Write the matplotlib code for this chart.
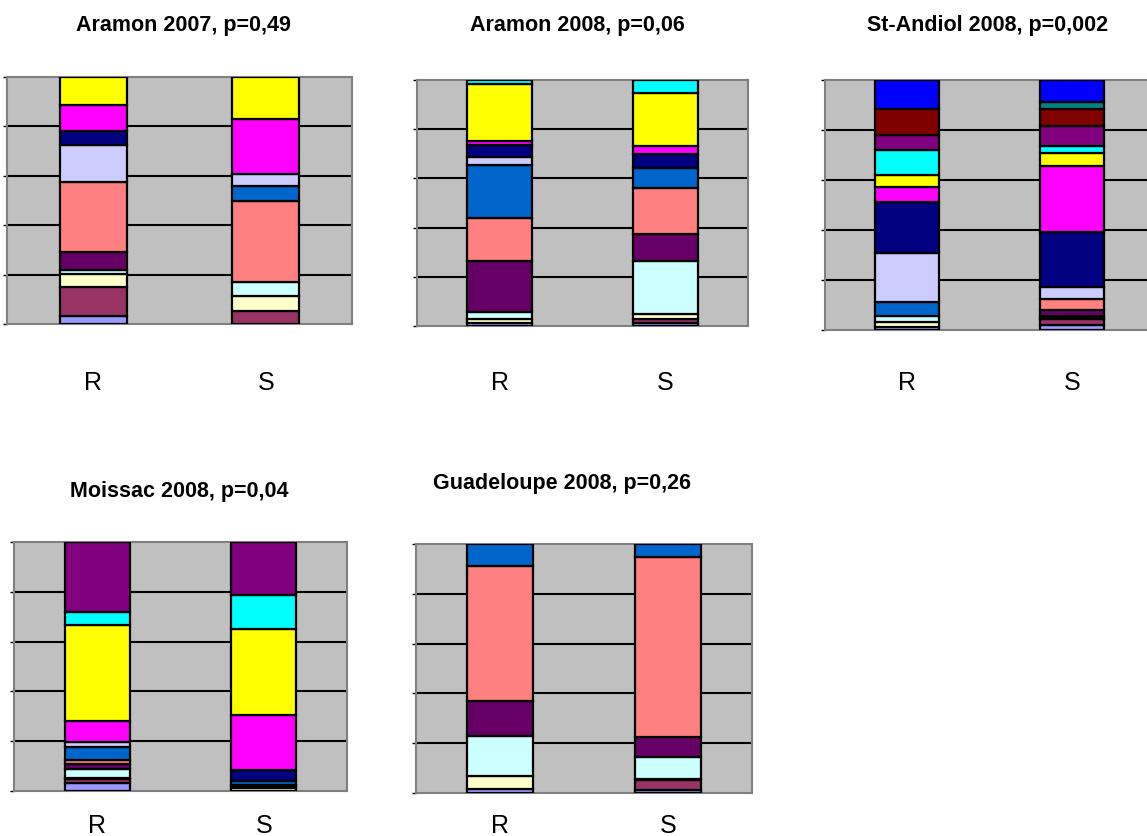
"""Five 100% stacked bar panels (R vs S) in the old spreadsheet palette."""

import matplotlib
matplotlib.use("Agg")
import matplotlib.pyplot as plt

plt.rcParams["font.family"] = ["Liberation Sans", "DejaVu Sans"]

W, H = 1147, 837

# stacking order, bottom to top
SERIES_COLORS = ["#9999FF", "#993366", "#FFFFCC", "#CCFFFF", "#660066", "#FF8080",
                 "#0066CC", "#CCCCFF", "#000080", "#FF00FF", "#FFFF00", "#00FFFF",
                 "#800080", "#800000", "#008080", "#0000FF"]
CATEGORIES = ["R", "S"]

titles = ["Aramon 2007, p=0,49", "Aramon 2008, p=0,06", "St-Andiol 2008, p=0,002",
          "Moissac 2008, p=0,04", "Guadeloupe 2008, p=0,26"]

aramon07_r = [3.4, 11.5, 5.4, 1.6, 7.4, 28.1, 0, 14.9, 5.7, 10.5, 11.5, 0, 0, 0, 0, 0]
aramon07_s = [0, 5.1, 6.4, 5.4, 0, 32.7, 6.1, 5.1, 0, 22.3, 16.9, 0, 0, 0, 0, 0]
aramon08_r = [1.4, 0, 1.6, 2.8, 20.6, 17.6, 21.3, 3.5, 4.6, 1.8, 23.0, 1.8, 0, 0, 0, 0]
aramon08_s = [1.4, 1.6, 1.8, 21.7, 10.8, 18.6, 8.5, 0, 5.4, 3.4, 21.7, 5.1, 0, 0, 0, 0]
andiol08_r = [1.1, 0, 2.0, 2.7, 0, 0, 5.3, 19.8, 20.2, 6.0, 5.1, 9.7, 6.3, 10.3, 0, 11.5]
andiol08_s = [2.1, 2.3, 0.6, 0.6, 2.4, 4.4, 0, 4.9, 22.0, 26.5, 5.1, 2.7, 8.0, 6.9, 2.7, 8.8]
moissac08_r = [3.1, 1.9, 0.3, 3.5, 1.9, 1.7, 5.4, 1.7, 0, 8.6, 38.6, 5.1, 28.2, 0, 0, 0]
moissac08_s = [0, 0, 1.3, 0.6, 0.6, 0, 1.7, 0, 4.3, 21.9, 34.6, 13.8, 21.2, 0, 0, 0]
guadel08_r = [1.6, 0, 5.4, 15.8, 14.1, 54.4, 8.7, 0, 0, 0, 0, 0, 0, 0, 0, 0]
guadel08_s = [1.2, 4.0, 0.6, 8.7, 7.8, 72.3, 5.4, 0, 0, 0, 0, 0, 0, 0, 0, 0]

panel_values = [(aramon07_r, aramon07_s), (aramon08_r, aramon08_s),
                (andiol08_r, andiol08_s), (moissac08_r, moissac08_s),
                (guadel08_r, guadel08_s)]

# plot area in pixels: left, right, top, bottom
boxes = [(7, 352, 78, 325), (417, 748, 81, 327), (825, 1154, 81, 331),
         (14, 347, 543, 792), (416, 752, 545, 794)]
title_pos = [(183, 25), (577, 25), (988, 25), (179, 492), (562, 484)]
label_pad_px = [46, 44, 40, 22, 20]

fig = plt.figure(figsize=(W / 100, H / 100), dpi=100, facecolor="white")

for i, (vals_r, vals_s) in enumerate(panel_values):
    l, r, t, b = boxes[i]
    ax = fig.add_axes([l / W, (H - b) / H, (r - l) / W, (b - t) / H])
    ax.set_facecolor("#C0C0C0")
    for y in (20, 40, 60, 80):
        ax.axhline(y, color="black", linewidth=1.5, zorder=1)

    for x, vals in enumerate((vals_r, vals_s)):
        bottom = 0.0
        for v, color in zip(vals, SERIES_COLORS):
            if v > 0:
                ax.bar(x, v, bottom=bottom, width=0.39, color=color,
                       edgecolor="black", linewidth=1.6, zorder=3)
            bottom += v

    ax.set_xlim(-0.5, 1.5)
    ax.set_ylim(0, 100)
    ax.set_yticks([0, 20, 40, 60, 80, 100])
    ax.tick_params(axis="y", length=3, width=1, color="black", labelleft=False)
    ax.set_xticks(range(len(CATEGORIES)))
    ax.set_xticklabels(CATEGORIES, fontsize=18)
    ax.tick_params(axis="x", length=0, pad=label_pad_px[i] * 0.72)
    for spine in ax.spines.values():
        spine.set_color("#808080")
        spine.set_linewidth(1.5)

    tx, ty = title_pos[i]
    fig.text(tx / W, 1 - ty / H, titles[i], ha="center", va="center",
             fontsize=15.5, fontweight="bold")

fig.savefig("out.png", dpi=100, facecolor="white")
plt.close(fig)
